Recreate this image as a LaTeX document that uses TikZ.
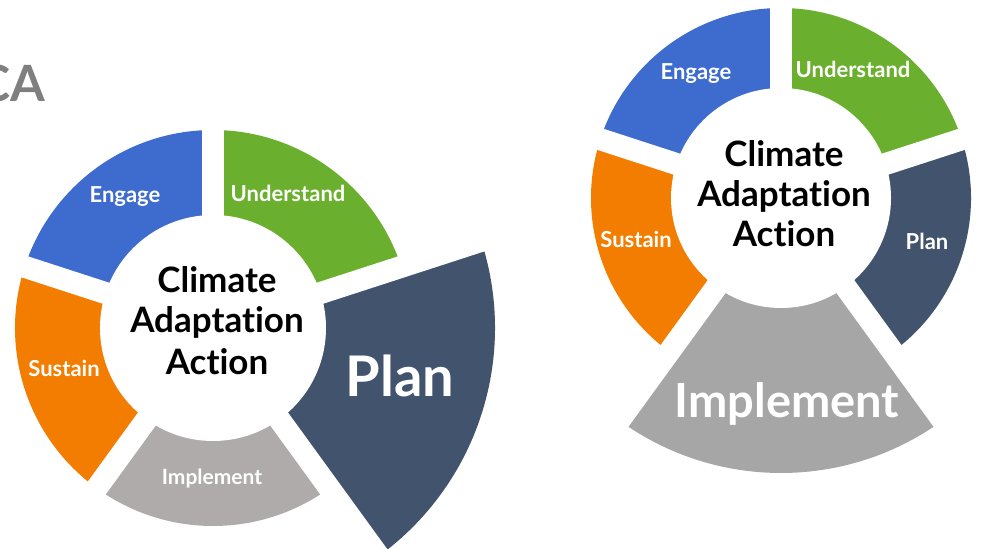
\documentclass[tikz,border=0pt]{standalone}
\usepackage{fontspec}
\setmainfont{Lato}[Ligatures=NoCommon]
\usetikzlibrary{positioning}
\definecolor{engageblue}{RGB}{61,108,206}
\definecolor{understandgreen}{RGB}{106,176,46}
\definecolor{sustainorange}{RGB}{242,125,0}
\definecolor{planslate}{RGB}{66,83,109}
\definecolor{implgray}{RGB}{174,171,170}
\definecolor{implgraydark}{RGB}{166,166,166}
\definecolor{titlegray}{RGB}{127,127,127}
\tikzset{
	whitegap/.style={white, line width=22pt},
	seglabel/.style={white, anchor=base, font=\bfseries\fontsize{22}{22}\selectfont},
	hubtext/.style={black, anchor=base, font=\bfseries\fontsize{35}{35}\selectfont},
}
\begin{document}
\begin{tikzpicture}[x=1pt,y=1pt]
		\useasboundingbox (0,0) rectangle (981,548);
		\node[titlegray, anchor=base east, font=\bfseries\fontsize{50}{50}\selectfont] (title) at (49,446){CA};
		%
		% left wheel, Plan enlarged
		\fill[understandgreen] (213,220) -- ++(18:198) arc[start angle=18, end angle=90, radius=198] -- cycle;
		\fill[engageblue] (213,220) -- ++(90:198) arc[start angle=90, end angle=162, radius=198] -- cycle;
		\fill[sustainorange] (213,220) -- ++(162:198) arc[start angle=162, end angle=234, radius=198] -- cycle;
		\fill[implgray] (213,220) -- ++(234:198) arc[start angle=234, end angle=306, radius=198] -- cycle;
		\fill[planslate] (213,220) -- ++(-54:282) arc[start angle=-54, end angle=18, radius=282] -- cycle;
		\draw[whitegap] (213,220) -- ++(90:210);
		\draw[whitegap] (213,220) -- ++(18:295);
		\draw[whitegap] (213,220) -- ++(-54:295);
		\draw[whitegap] (213,220) -- ++(-126:210);
		\draw[whitegap] (213,220) -- ++(162:210);
		\fill[white] (213,220) circle (113);
		\node[seglabel] (engL) at (125,345){Engage};
		\node[seglabel] (undL) at (288,346){Understand};
		\node[seglabel] (susL) at (64,171){Sustain};
		\node[seglabel, font=\bfseries\fontsize{21}{21}\selectfont] (impL) at (212,63){Implement};
		\node[seglabel, font=\bfseries\fontsize{56}{56}\selectfont] (planL) at (400,151){Plan};
		\node[hubtext] (hubL1) at (217,255){Climate};
		\node[hubtext] (hubL2) at (217,215){Adaptation};
		\node[hubtext] (hubL3) at (217,173){Action};
		%
		% right wheel, Implement enlarged
		\fill[understandgreen] (781,350) -- ++(18:190) arc[start angle=18, end angle=90, radius=190] -- cycle;
		\fill[engageblue] (781,350) -- ++(90:190) arc[start angle=90, end angle=162, radius=190] -- cycle;
		\fill[sustainorange] (781,350) -- ++(162:190) arc[start angle=162, end angle=234, radius=190] -- cycle;
		\fill[implgraydark] (781,350) -- ++(234:275) arc[start angle=234, end angle=306, radius=275] -- cycle;
		\fill[planslate] (781,350) -- ++(-54:190) arc[start angle=-54, end angle=18, radius=190] -- cycle;
		\draw[whitegap] (781,350) -- ++(90:200);
		\draw[whitegap] (781,350) -- ++(18:200);
		\draw[whitegap] (781,350) -- ++(-54:285);
		\draw[whitegap] (781,350) -- ++(-126:285);
		\draw[whitegap] (781,350) -- ++(162:200);
		\fill[white] (781,350) circle (110);
		\node[seglabel] (engR) at (696,468){Engage};
		\node[seglabel] (undR) at (853,470){Understand};
		\node[seglabel] (susR) at (636,300){Sustain};
		\node[seglabel] (planR) at (927,298){Plan};
		\node[seglabel, font=\bfseries\fontsize{47}{47}\selectfont] (impR) at (787,130){Implement};
		\node[hubtext] (hubR1) at (784,381){Climate};
		\node[hubtext] (hubR2) at (784,341){Adaptation};
		\node[hubtext] (hubR3) at (784,301){Action};
	\end{tikzpicture}
\end{document}
